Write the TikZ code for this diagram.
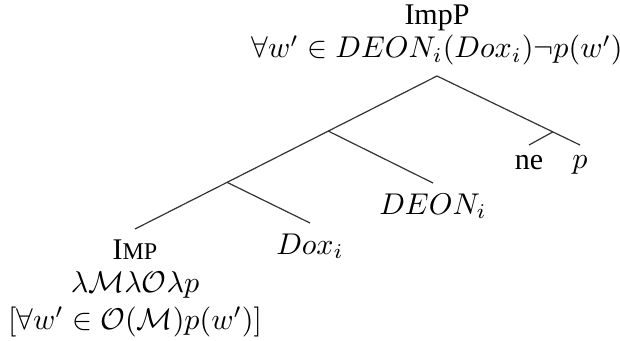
\documentclass[tikz,border=0pt]{standalone}
\usepackage{amsmath,amssymb}
\usepackage[no-math]{fontspec}
\setmainfont{Liberation Serif}
\usepackage{tikz}
\usetikzlibrary{calc,positioning}

\newcommand{\fakesc}[1]{{\fontsize{8}{9}\selectfont #1}}

\begin{document}
\begin{tikzpicture}[
    x=0.3333pt, y=-0.3333pt,
    lbl/.style={align=center, inner sep=3.33pt},
    branch/.style={line width=0.4pt, black!80}
]
\useasboundingbox (0,0) rectangle (620,340);
\node[lbl, anchor=south] (root) at (437,76) {ImpP\\[-1pt] $\forall w' \in DEON_i(Dox_i)\neg p(w')$};
\node[lbl, anchor=north] (imp) at (135,229) {I\fakesc{MP}\\[-1pt] $\lambda\mathcal{M}\lambda\mathcal{O}\lambda p$\\[0.5pt] $[\forall w' \in \mathcal{O}(\mathcal{M})p(w')]$};
\node[lbl, anchor=north] (deon) at (433,183) {$DEON_i$};
\node[lbl, anchor=north] (dox) at (310,223) {$Dox_i$};
\node[lbl, anchor=north] (ne) at (529,145) {ne};
\node[lbl, anchor=north] (p) at (580,145) {$p$};
% branching points
\coordinate (b1) at ($(root.south)!0.36!(imp.north)$);
\coordinate (b2) at ($(root.south)!0.695!(imp.north)$);
\coordinate (b3) at ($(root.south)!0.81!(p.north)$);
\draw[branch] (root.south) -- (b1) -- (b2) -- (imp.north);
\draw[branch] (b1) -- (deon.north);
\draw[branch] (b2) -- (dox.north);
\draw[branch] (root.south) -- (b3) -- (p.north);
\draw[branch] (b3) -- (ne.north);
\end{tikzpicture}
\end{document}
